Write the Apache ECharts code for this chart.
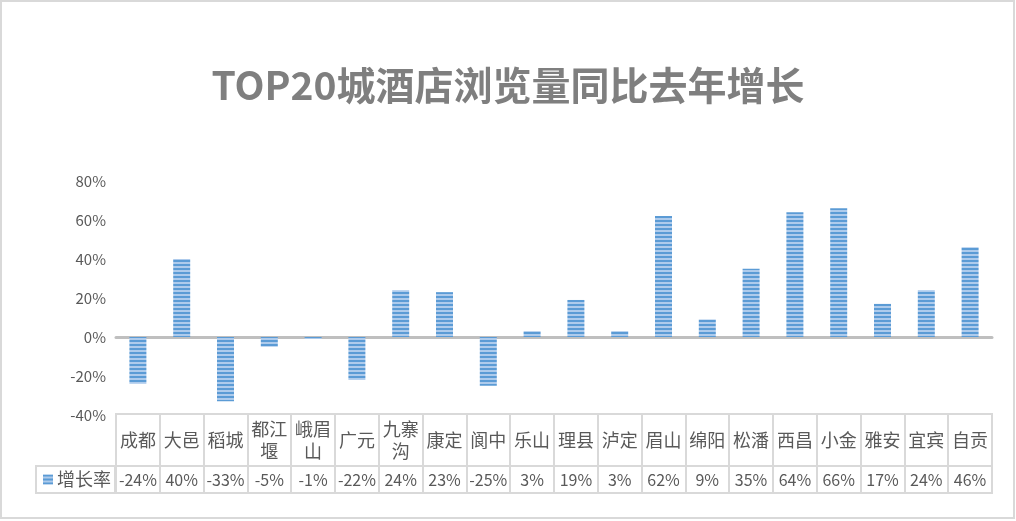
<!DOCTYPE html>
<html>
<head>
<meta charset="utf-8">
<script src="https://cdn.jsdelivr.net/npm/echarts@6/dist/echarts.min.js"></script>
<style>
html,body{margin:0;padding:0;background:#fff;}
#chart{position:absolute;left:0;top:0;width:1016px;height:521px;}
#frame{position:absolute;left:0;top:0;width:1015px;height:519px;box-sizing:border-box;border:2px solid #d9d9d9;pointer-events:none;}
</style>
</head>
<body>
<div id="chart"></div>
<div id="frame"></div>
<script>
const titleText = 'TOP20城酒店浏览量同比去年增长';
const seriesName = '增长率';
const cities = ['成都','大邑','稻城','都江\n堰','峨眉\n山','广元','九寨\n沟','康定','阆中','乐山','理县','泸定','眉山','绵阳','松潘','西昌','小金','雅安','宜宾','自贡'];
const growth = [-24, 40, -33, -5, -1, -22, 24, 23, -25, 3, 19, 3, 62, 9, 35, 64, 66, 17, 24, 46];
const yTicks = { min: -40, max: 80, interval: 20 };

const tile = document.createElement('canvas');
tile.width = 4; tile.height = 4;
const ctx = tile.getContext('2d');
ctx.fillStyle = '#aecbec'; ctx.fillRect(0, 0, 4, 4);
ctx.fillStyle = '#5b9bd5'; ctx.fillRect(0, 0, 4, 2);
const pattern = { image: tile, repeat: 'repeat' };

const textColor = '#595959';
const lineColor = '#d9d9d9';
const fontFam = '"Noto Sans CJK SC", "Noto Sans", sans-serif';

const chart = echarts.init(document.getElementById('chart'), null, { renderer: 'canvas' });
chart.setOption({
  animation: false,
  title: {
    text: titleText, left: 'center', top: 61,
    textStyle: { fontSize: 39, fontWeight: 'bold', color: '#7f7f7f', fontFamily: fontFam }
  },
  legend: {
    left: 36, top: 466,
    data: [{ name: seriesName, icon: 'rect', itemStyle: { color: pattern } }],
    itemWidth: 10, itemHeight: 10, itemGap: 0,
    padding: [4, 4, 4, 7],
    borderColor: lineColor, borderWidth: 2,
    textStyle: { fontSize: 18, color: textColor, fontFamily: fontFam, lineHeight: 19, padding: [0, 0, 0, -1] }
  },
  grid: [
    { left: 116, right: 24, top: 181, height: 234 },
    { left: 116, right: 24, top: 414, height: 52, show: true, borderColor: lineColor, borderWidth: 2 },
    { left: 116, right: 24, top: 466, height: 27, show: true, borderColor: lineColor, borderWidth: 2 }
  ],
  xAxis: [
    { type: 'category', gridIndex: 0, data: cities,
      axisLine: { onZero: true, lineStyle: { color: '#bfbfbf', width: 3 } },
      axisTick: { show: false }, axisLabel: { show: false }, splitLine: { show: false } },
    { type: 'category', gridIndex: 1, data: cities,
      axisLine: { show: false }, axisTick: { show: false },
      splitLine: { show: true, interval: 0, lineStyle: { color: lineColor, width: 2 } },
      axisLabel: { interval: 0, inside: true, margin: 26, verticalAlign: 'middle',
        fontSize: 18, lineHeight: 22, color: textColor, fontFamily: fontFam } },
    { type: 'category', gridIndex: 2, data: growth.map(v => v + '%'),
      axisLine: { show: false }, axisTick: { show: false },
      splitLine: { show: true, interval: 0, lineStyle: { color: lineColor, width: 2 } },
      axisLabel: { interval: 0, inside: true, margin: 13.5, verticalAlign: 'middle',
        fontSize: 16, color: textColor, fontFamily: fontFam } }
  ],
  yAxis: [
    { type: 'value', gridIndex: 0, min: yTicks.min, max: yTicks.max, interval: yTicks.interval,
      axisLine: { show: false }, axisTick: { show: false }, splitLine: { show: false },
      axisLabel: { formatter: '{value}%', fontSize: 15, color: textColor, margin: 10, fontFamily: fontFam } },
    { type: 'category', gridIndex: 1, data: [''], show: false },
    { type: 'category', gridIndex: 2, data: [''], show: false }
  ],
  series: [
    { name: seriesName, type: 'bar', xAxisIndex: 0, yAxisIndex: 0, data: growth,
      barWidth: 17, itemStyle: { color: pattern } }
  ]
});
</script>
</body>
</html>
